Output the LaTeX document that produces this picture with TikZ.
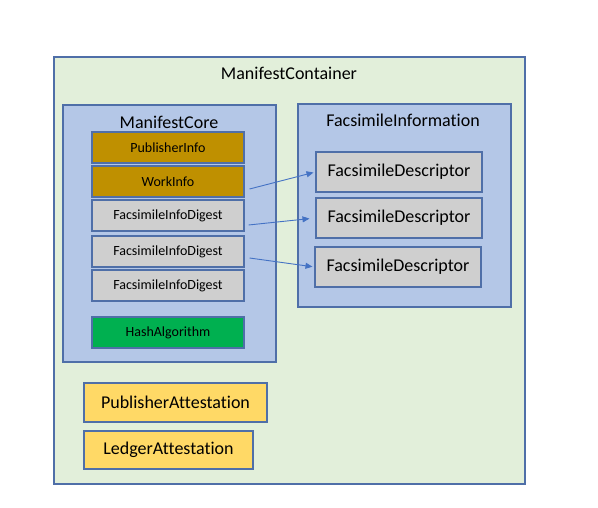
\documentclass[tikz,border=0pt]{standalone}
\usepackage{fontspec}
\setmainfont[Ligatures={NoCommon}]{Carlito}
\usetikzlibrary{calc,arrows.meta}
\definecolor{bordc}{HTML}{4F6FA8}
\definecolor{greenbg}{HTML}{E2EFDA}
\definecolor{bluebg}{HTML}{B4C7E7}
\definecolor{gold}{HTML}{BF9000}
\definecolor{grayf}{HTML}{CFCFCF}
\definecolor{greenf}{HTML}{00B050}
\definecolor{yellowf}{HTML}{FFD966}
\definecolor{arrowc}{HTML}{4472C4}
\tikzset{
  box/.style={draw=bordc, line width=1.1pt, inner sep=0pt, anchor=center},
  small/.style={box, minimum width=152pt, minimum height=31pt, font=\fontsize{14}{16}\selectfont},
  desc/.style={box, fill=grayf, minimum width=166pt, minimum height=40pt, font=\fontsize{18}{21}\selectfont},
  att/.style={box, fill=yellowf, font=\fontsize{18}{21}\selectfont},
  ttl/.style={font=\fontsize{18}{21}\selectfont, inner sep=0pt},
  link/.style={draw=arrowc, line width=0.9pt, -{Triangle[length=7pt,width=6pt]}}
}
\begin{document}
\begin{tikzpicture}[x=1pt,y=-1pt]
\useasboundingbox (0,0) rectangle (598,508);
\node[box, fill=greenbg, minimum width=471pt, minimum height=427pt] (outer) at (289.5,270.5) {};
\node[ttl] (outert) at (289,73) {ManifestContainer};
\node[box, fill=bluebg, minimum width=213pt, minimum height=257pt] (core) at (169.5,233.5) {};
\node[ttl] (coret) at (169,122) {ManifestCore};
\node[box, fill=bluebg, minimum width=213pt, minimum height=203pt] (fi) at (404.5,205.5) {};
\node[ttl] (fit) at (403,120) {FacsimileInformation};
\node[small, fill=gold] (pi) at (168,147.5) {PublisherInfo};
\node[small, fill=gold] (wi) at (168,181.5) {WorkInfo};
\node[small, fill=grayf] (fid1) at (168,215.5) {FacsimileInfoDigest};
\node[small, fill=grayf] (fid2) at (168,251.5) {FacsimileInfoDigest};
\node[small, fill=grayf] (fid3) at (168,285.5) {FacsimileInfoDigest};
\node[small, fill=greenf] (hash) at (168,332.5) {HashAlgorithm};
\node[desc] (fd1) at (399,172) {FacsimileDescriptor};
\node[desc] (fd2) at (399,218) {FacsimileDescriptor};
\node[desc] (fd3) at (398,267) {FacsimileDescriptor};
\node[att, minimum width=183pt, minimum height=39pt] (pa) at (175.5,402.5) {PublisherAttestation};
\node[att, minimum width=169pt, minimum height=38pt] (la) at (168.5,450) {LedgerAttestation};
\coordinate (s1) at ($(wi.east)+(5,7.5)$);
\coordinate (s2) at ($(fid1.east)+(4,9.5)$);
\coordinate (s3) at ($(fid2.east)+(5,6.5)$);
\draw[link, shorten >=2pt] (s1) -- (fd1.west);
\draw[link, shorten >=6pt] (s2) -- (fd2.west);
\draw[link, shorten >=2pt] (s3) -- (fd3.west);
\end{tikzpicture}
\end{document}
